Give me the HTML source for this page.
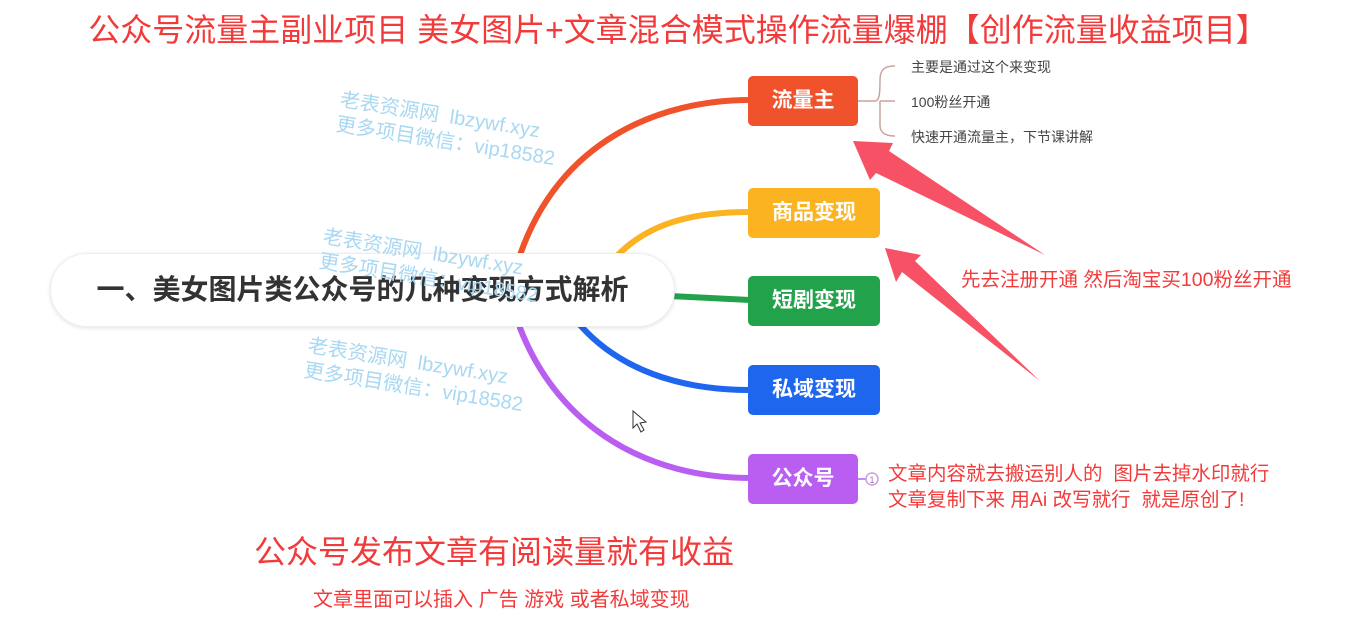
<!DOCTYPE html>
<html><head><meta charset="utf-8"><style>
body{margin:0;width:1356px;height:629px;background:#fff;position:relative;overflow:hidden;font-family:"Liberation Sans","Noto Sans CJK SC",sans-serif}
.a{position:absolute;white-space:nowrap}
.n{position:absolute;height:50px;border-radius:5px;color:#fff;font-weight:bold;font-size:21px;line-height:50px;text-align:center}
.wm{position:absolute;color:#a8d8f2;font-size:20px;line-height:25px;transform:rotate(9deg);transform-origin:left top;white-space:nowrap}
</style></head><body>
<div class="a" style="left:0;width:1356px;top:7px;text-align:center;color:#f23a3a;font-size:32px;line-height:46px">公众号流量主副业项目 美女图片+文章混合模式操作流量爆棚【创作流量收益项目】</div>
<svg width="1356" height="629" style="position:absolute;left:0;top:0">
<g fill="none" stroke-width="6" stroke-linecap="round">
<path d="M520 255 C560 140 660 100 750 100" stroke="#f0522b"/>
<path d="M615 258 C650 220 700 212 750 212" stroke="#fbb321"/>
<path d="M670 296 L750 300" stroke="#21a24b"/>
<path d="M580 325 C620 370 680 390 750 390" stroke="#1f66ef"/>
<path d="M520 328 C560 430 650 478 750 478" stroke="#b95ef0"/>
</g>
<path d="M858 101 H875 M875 101 C880 101 880 90 880 80 C880 70 884 66 895 66 M880 101 H895 M880 101 C880 112 880 122 880 125 C880 132 884 136 895 136" stroke="#c9a3a0" stroke-width="1.5" fill="none"/>
<path d="M858 479 H866" stroke="#b95ef0" stroke-width="1.5"/>
<circle cx="872" cy="479" r="6" fill="#fff" stroke="#c9a0e0" stroke-width="1.5"/>
<text x="872" y="483" font-size="9" text-anchor="middle" fill="#a070c0" font-family="Liberation Sans">1</text>
<polygon points="1045,255 876,173 870,180 853,141 893,143 889,151" fill="#f65164"/>
<polygon points="1040,381 902,272 896,282 885,248 921,255 915,261" fill="#f65164"/>
<path d="M633 411 L633 428 L637 424 L641 432 L644 430 L640 423 L646 422 Z" fill="#fff" stroke="#333" stroke-width="1"/>
</svg>
<div class="a" style="left:50px;top:253px;width:623px;height:72px;border:1px solid #eee;border-radius:37px;box-shadow:0 1px 4px rgba(0,0,0,.12);background:#fff;text-align:center;line-height:72px;font-size:28px;font-weight:bold;color:#333">一、美女图片类公众号的几种变现方式解析</div>
<div class="n" style="left:748px;top:76px;width:110px;background:#f0522b">流量主</div>
<div class="n" style="left:748px;top:188px;width:132px;background:#fbb321">商品变现</div>
<div class="n" style="left:748px;top:276px;width:132px;background:#21a24b">短剧变现</div>
<div class="n" style="left:748px;top:365px;width:132px;background:#1f66ef">私域变现</div>
<div class="n" style="left:748px;top:454px;width:110px;background:#b95ef0">公众号</div>
<div class="a" style="left:911px;top:57px;font-size:14px;color:#444">主要是通过这个来变现</div>
<div class="a" style="left:911px;top:92px;font-size:14px;color:#444">100粉丝开通</div>
<div class="a" style="left:911px;top:127px;font-size:14px;color:#444">快速开通流量主，下节课讲解</div>
<div class="a" style="left:961px;top:263px;font-size:19.5px;color:#f23a3a">先去注册开通 然后淘宝买100粉丝开通</div>
<div class="a" style="left:888px;top:461px;font-size:19.5px;line-height:26px;color:#f23a3a">文章内容就去搬运别人的&nbsp; 图片去掉水印就行<br>文章复制下来 用Ai 改写就行&nbsp; 就是原创了!</div>
<div class="a" style="left:254px;top:527px;font-size:32px;color:#f23a3a">公众号发布文章有阅读量就有收益</div>
<div class="a" style="left:313px;top:583px;font-size:20px;color:#f23a3a">文章里面可以插入 广告 游戏 或者私域变现</div>
<div class="wm" style="left:342px;top:88px">老表资源网&nbsp; lbzywf.xyz<br>更多项目微信：vip18582</div>
<div class="wm" style="left:325px;top:225px">老表资源网&nbsp; lbzywf.xyz<br>更多项目微信：vip18582</div>
<div class="wm" style="left:310px;top:334px">老表资源网&nbsp; lbzywf.xyz<br>更多项目微信：vip18582</div>
</body></html>
